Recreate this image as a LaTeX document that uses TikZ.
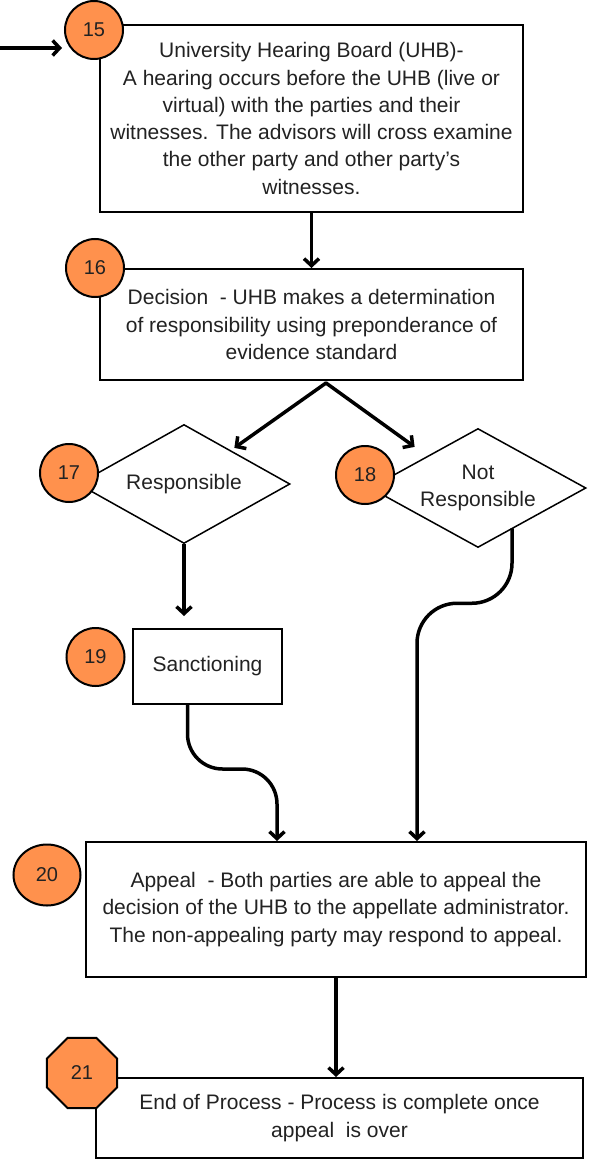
\documentclass[tikz,border=0pt]{standalone}
\usepackage{fontspec}
\setmainfont{Liberation Sans}
\usetikzlibrary{arrows.meta,shapes.geometric}
\definecolor{orng}{HTML}{FF914D}
\definecolor{txt}{HTML}{222222}
\begin{document}
\begin{tikzpicture}[x=1pt,y=-1pt,
  box/.style={draw=black,line width=2pt,fill=white,rectangle,inner sep=0pt,align=center,text=txt,font=\fontsize{21}{27.3}\selectfont},
  dia/.style={draw=black,line width=1.5pt,fill=white,diamond,inner sep=0pt,aspect=1.78,align=center,text=txt,font=\fontsize{21}{27.3}\selectfont},
  badge/.style={circle,draw=black,line width=2pt,fill=orng,minimum size=58pt,inner sep=0pt,font=\fontsize{20}{20}\selectfont,text=txt},
  conn/.style={line width=3.5pt,-{Straight Barb[length=7pt,width=15pt]}}
]
\useasboundingbox (0,0) rectangle (595,1169);
% boxes
\node[box,minimum width=423pt,minimum height=187pt] (b15) at (311.5,118.5) {University Hearing Board (UHB)-\\A hearing occurs before the UHB (live or\\virtual) with the parties and their\\witnesses. The advisors will cross examine\\the other party and other party’s\\witnesses.};
\node[box,minimum width=423pt,minimum height=111pt] (b16) at (311.5,324.5) {Decision\ \ - UHB makes a determination\\of responsibility using preponderance of\\evidence standard};
\node[dia,minimum width=212pt,minimum height=119pt] (d17) at (184,484) {Responsible};
\node[dia,minimum width=216pt,minimum height=119pt] (d18) at (478,488) {Not\\Responsible};
\node[box,minimum width=149pt,minimum height=75pt] (b19) at (207.5,666.5) {Sanctioning};
\node[box,minimum width=500pt,minimum height=135pt] (b20) at (336,909.5) {Appeal\ \ - Both parties are able to appeal the\\decision of the UHB to the appellate administrator.\\The non-appealing party may respond to appeal.};
\node[box,minimum width=487pt,minimum height=80pt] (b21) at (339.5,1118) {End of Process - Process is complete once\\appeal\ \ is over};
% connectors
\coordinate (split) at (326,383);
\draw[conn] (b15.south) -- (b16.north);
\draw[conn,line cap=round] (split) -- ([shift={(-3pt,6pt)}]d17.north east);
\draw[conn,line cap=round] (split) -- ([shift={(-9pt,11pt)}]d18.north west);
\draw[conn] (d17.south) -- ([yshift=12pt]d17.south |- b19.north);
\draw[conn,rounded corners=35pt] ([xshift=-20pt]b19.south) -- ++(0,64) -| ([xshift=-59pt]b20.north);
\draw[conn,rounded corners=40pt] ([shift={(34pt,20pt)}]d18.south) -- ++(0,75) -| ([xshift=81pt]b20.north);
\draw[conn] (b20.south) -- (b20.south |- b21.north);
% badges
\node[badge] (c15) at (94,30) {15};
\node[badge] (c16) at (95,268) {16};
\node[badge] (c17) at (69,473) {17};
\node[badge] (c18) at (365,475) {18};
\node[badge] (c19) at (95.5,657) {19};
\node[badge,ellipse,minimum width=67pt,minimum height=61pt] (c20) at (47,875) {20};
\node[badge,regular polygon,regular polygon sides=8,minimum size=75.8pt] (c21) at (82,1073) {21};
% incoming connector
\coordinate (in0) at (-3,48);
\draw[conn] (in0) -- ([xshift=-2pt]c15.west |- in0);
\end{tikzpicture}
\end{document}
